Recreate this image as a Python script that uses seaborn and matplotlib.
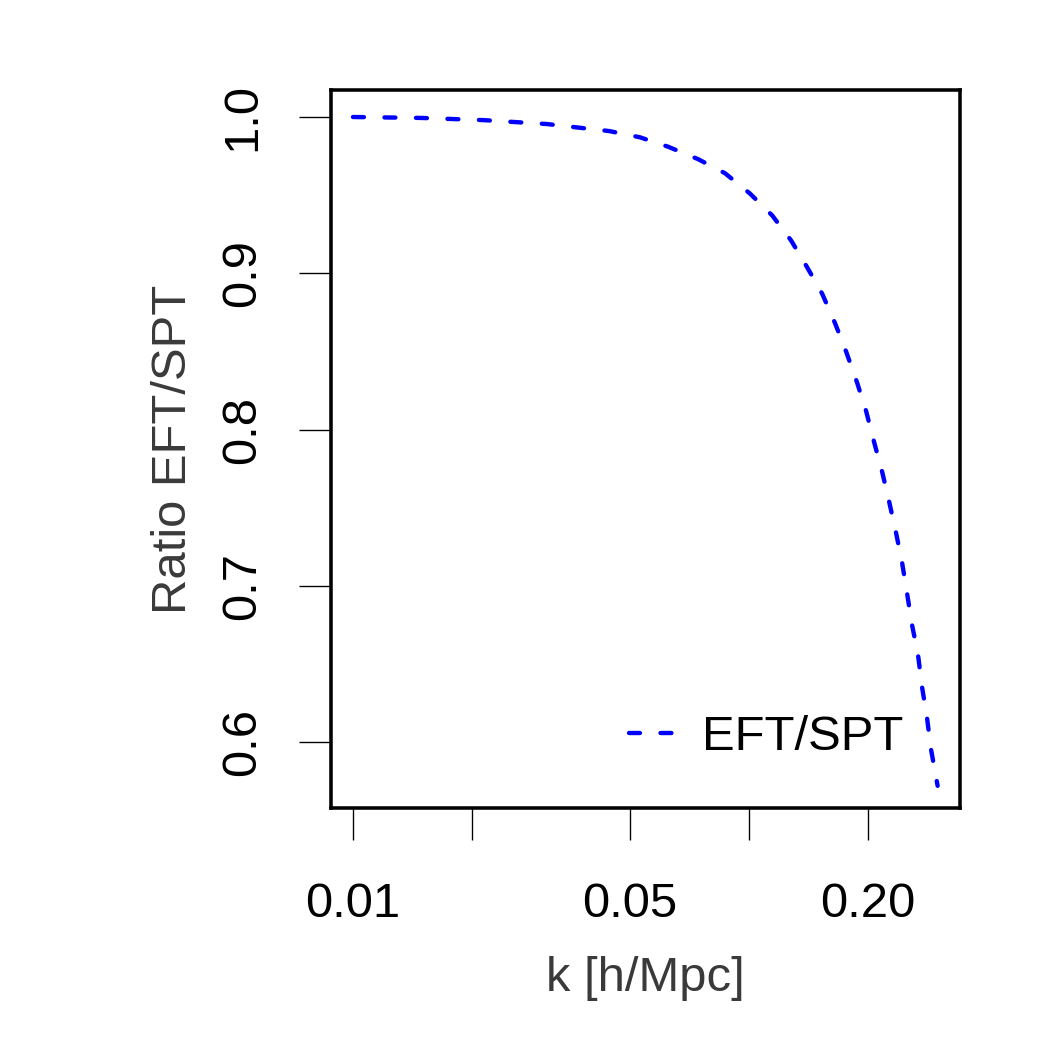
import matplotlib
matplotlib.use("Agg")
import matplotlib.pyplot as plt
import seaborn as sns
import pandas as pd
import numpy as np

# Data
k_values = [0.0100, 0.0149, 0.0214, 0.0309, 0.0444, 0.0531, 0.0625, 0.0745, 0.0871,
            0.1007, 0.1146, 0.1279, 0.1403, 0.1532, 0.1652, 0.1761, 0.1878, 0.1978,
            0.2073, 0.2172, 0.2262, 0.2355, 0.2439, 0.2512, 0.2585, 0.2676, 0.2741,
            0.2819, 0.2884, 0.2970, 0.3000]
ratio_values = [1.000, 0.9994, 0.998, 0.9955, 0.991, 0.987, 0.981, 0.973, 0.964,
                0.951, 0.937, 0.921, 0.904, 0.887, 0.868, 0.850, 0.830, 0.812,
                0.792, 0.773, 0.754, 0.734, 0.715, 0.695, 0.675, 0.656, 0.635,
                0.616, 0.596, 0.578, 0.572]
series_name = "EFT/SPT"
x_ticks = [0.01, 0.02, 0.05, 0.1, 0.2]
x_tick_labels = ["0.01", "", "0.05", "", "0.20"]
y_ticks = [0.6, 0.7, 0.8, 0.9, 1.0]
y_tick_labels = ["0.6", "0.7", "0.8", "0.9", "1.0"]

df = pd.DataFrame({"k": k_values, "ratio": ratio_values, "series": series_name})

sns.set_style("white")
plt.rcParams["font.family"] = ["Liberation Sans", "DejaVu Sans"]

fig = plt.figure(figsize=(7, 7), dpi=150)
ax = fig.add_axes([331/1050, 1 - 808/1050, (960 - 331)/1050, (808 - 90)/1050])

lw = 2.1
dash = (0, (2.5, 4.7))
sns.lineplot(data=df, x="k", y="ratio", hue="series", palette=["#0000ff"],
             ax=ax, linewidth=lw, legend=True, sort=False)
line = ax.get_lines()[0]
line.set_linestyle(dash)
line.set_dash_capstyle("round")

ax.set_xscale("log")
ax.set_xlim(0.00880, 0.3417)
ax.set_ylim(0.5578, 1.01728)

ax.set_xticks(x_ticks)
ax.set_xticklabels(x_tick_labels)
ax.xaxis.set_minor_locator(matplotlib.ticker.NullLocator())
ax.set_yticks(y_ticks)
ax.set_yticklabels(y_tick_labels, rotation=90, va="center")

fs = 23.5
ax.tick_params(axis="both", which="major", direction="out", length=15.4, width=0.65,
               color="black", labelsize=fs, labelcolor="black",
               bottom=True, left=True, top=False, right=False)
ax.tick_params(axis="x", pad=20)
ax.tick_params(axis="y", pad=16)

for sp in ax.spines.values():
    sp.set_visible(True)
    sp.set_color("black")
    sp.set_linewidth(1.7)

ax.set_xlabel("k [h/Mpc]", fontsize=fs, color="#3a3a3a", labelpad=14)
ax.set_ylabel("Ratio EFT/SPT", fontsize=fs, color="#3a3a3a", labelpad=12)

handles, labels = ax.get_legend_handles_labels()
for h in handles:
    h.set_linestyle(dash)
    h.set_dash_capstyle("round")
    h.set_linewidth(lw)
leg = ax.legend(handles, labels, loc="center right", bbox_to_anchor=(0.91, 0.0975),
                frameon=False, fontsize=fs, handlelength=0.95, handletextpad=0.55,
                borderpad=0, borderaxespad=0, labelcolor="black")

fig.savefig("out.png", dpi=150, facecolor="white")
